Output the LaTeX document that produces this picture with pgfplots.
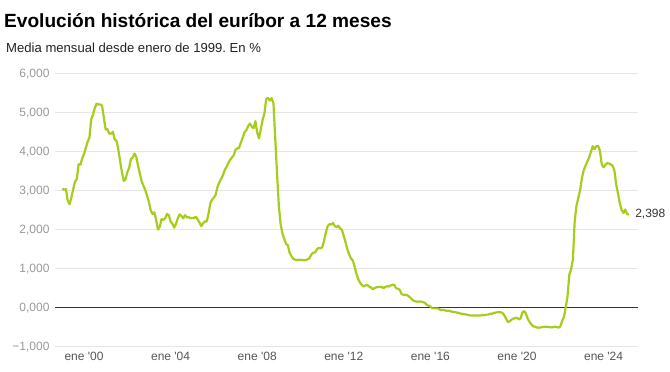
\documentclass[border=0pt]{standalone}
\usepackage{fontspec}
\setmainfont{Liberation Sans}
\usepackage{pgfplots}
\usepackage{pgfplotstable}
\pgfplotsset{compat=1.18}
\frenchspacing
\definecolor{linegreen}{RGB}{166,204,30}
\definecolor{gridgray}{RGB}{230,230,230}
\definecolor{ticky}{RGB}{153,153,153}
\definecolor{tickx}{RGB}{85,85,85}
\pgfplotstableread{
yr m v
1999 1 3.062
1999 2 3.033
1999 3 3.049
1999 4 2.749
1999 5 2.662
1999 6 2.834
1999 7 3.040
1999 8 3.240
1999 9 3.304
1999 10 3.684
1999 11 3.672
1999 12 3.833
2000 1 3.949
2000 2 4.106
2000 3 4.264
2000 4 4.368
2000 5 4.841
2000 6 4.958
2000 7 5.130
2000 8 5.240
2000 9 5.220
2000 10 5.220
2000 11 5.190
2000 12 4.880
2001 1 4.577
2001 2 4.585
2001 3 4.471
2001 4 4.470
2001 5 4.520
2001 6 4.320
2001 7 4.290
2001 8 4.070
2001 9 3.770
2001 10 3.490
2001 11 3.260
2001 12 3.300
2002 1 3.480
2002 2 3.590
2002 3 3.820
2002 4 3.860
2002 5 3.960
2002 6 3.870
2002 7 3.640
2002 8 3.440
2002 9 3.240
2002 10 3.130
2002 11 3.020
2002 12 2.870
2003 1 2.710
2003 2 2.500
2003 3 2.410
2003 4 2.450
2003 5 2.250
2003 6 2.010
2003 7 2.080
2003 8 2.280
2003 9 2.260
2003 10 2.300
2003 11 2.410
2003 12 2.380
2004 1 2.220
2004 2 2.160
2004 3 2.060
2004 4 2.160
2004 5 2.300
2004 6 2.400
2004 7 2.360
2004 8 2.300
2004 9 2.380
2004 10 2.320
2004 11 2.330
2004 12 2.300
2005 1 2.310
2005 2 2.310
2005 3 2.340
2005 4 2.270
2005 5 2.190
2005 6 2.100
2005 7 2.170
2005 8 2.220
2005 9 2.220
2005 10 2.410
2005 11 2.680
2005 12 2.780
2006 1 2.830
2006 2 2.910
2006 3 3.110
2006 4 3.220
2006 5 3.310
2006 6 3.400
2006 7 3.540
2006 8 3.620
2006 9 3.720
2006 10 3.800
2006 11 3.860
2006 12 3.920
2007 1 4.060
2007 2 4.090
2007 3 4.110
2007 4 4.250
2007 5 4.370
2007 6 4.510
2007 7 4.560
2007 8 4.670
2007 9 4.730
2007 10 4.650
2007 11 4.610
2007 12 4.790
2008 1 4.500
2008 2 4.350
2008 3 4.590
2008 4 4.820
2008 5 4.990
2008 6 5.360
2008 7 5.390
2008 8 5.320
2008 9 5.380
2008 10 5.250
2008 11 4.350
2008 12 3.450
2009 1 2.620
2009 2 2.140
2009 3 1.910
2009 4 1.770
2009 5 1.640
2009 6 1.610
2009 7 1.410
2009 8 1.330
2009 9 1.260
2009 10 1.240
2009 11 1.230
2009 12 1.240
2010 1 1.230
2010 2 1.230
2010 3 1.220
2010 4 1.230
2010 5 1.250
2010 6 1.280
2010 7 1.370
2010 8 1.420
2010 9 1.420
2010 10 1.500
2010 11 1.540
2010 12 1.530
2011 1 1.550
2011 2 1.710
2011 3 1.920
2011 4 2.090
2011 5 2.150
2011 6 2.140
2011 7 2.180
2011 8 2.100
2011 9 2.070
2011 10 2.110
2011 11 2.040
2011 12 2.000
2012 1 1.840
2012 2 1.680
2012 3 1.500
2012 4 1.370
2012 5 1.270
2012 6 1.220
2012 7 1.060
2012 8 0.880
2012 9 0.740
2012 10 0.650
2012 11 0.590
2012 12 0.550
2013 1 0.580
2013 2 0.590
2013 3 0.550
2013 4 0.530
2013 5 0.480
2013 6 0.510
2013 7 0.530
2013 8 0.540
2013 9 0.540
2013 10 0.540
2013 11 0.510
2013 12 0.540
2014 1 0.560
2014 2 0.550
2014 3 0.580
2014 4 0.600
2014 5 0.590
2014 6 0.510
2014 7 0.490
2014 8 0.470
2014 9 0.360
2014 10 0.340
2014 11 0.340
2014 12 0.330
2015 1 0.300
2015 2 0.260
2015 3 0.210
2015 4 0.180
2015 5 0.170
2015 6 0.160
2015 7 0.170
2015 8 0.160
2015 9 0.150
2015 10 0.130
2015 11 0.080
2015 12 0.060
2016 1 0.040
2016 2 -0.010
2016 3 -0.010
2016 4 -0.010
2016 5 -0.010
2016 6 -0.030
2016 7 -0.060
2016 8 -0.050
2016 9 -0.060
2016 10 -0.070
2016 11 -0.070
2016 12 -0.080
2017 1 -0.095
2017 2 -0.106
2017 3 -0.110
2017 4 -0.120
2017 5 -0.130
2017 6 -0.150
2017 7 -0.150
2017 8 -0.160
2017 9 -0.170
2017 10 -0.180
2017 11 -0.190
2017 12 -0.190
2018 1 -0.190
2018 2 -0.190
2018 3 -0.190
2018 4 -0.190
2018 5 -0.190
2018 6 -0.180
2018 7 -0.180
2018 8 -0.170
2018 9 -0.170
2018 10 -0.150
2018 11 -0.150
2018 12 -0.130
2019 1 -0.120
2019 2 -0.110
2019 3 -0.110
2019 4 -0.110
2019 5 -0.130
2019 6 -0.190
2019 7 -0.280
2019 8 -0.360
2019 9 -0.340
2019 10 -0.300
2019 11 -0.270
2019 12 -0.260
2020 1 -0.250
2020 2 -0.290
2020 3 -0.270
2020 4 -0.110
2020 5 -0.080
2020 6 -0.150
2020 7 -0.280
2020 8 -0.360
2020 9 -0.420
2020 10 -0.470
2020 11 -0.480
2020 12 -0.500
2021 1 -0.505
2021 2 -0.501
2021 3 -0.487
2021 4 -0.484
2021 5 -0.481
2021 6 -0.484
2021 7 -0.491
2021 8 -0.498
2021 9 -0.492
2021 10 -0.477
2021 11 -0.487
2021 12 -0.502
2022 1 -0.477
2022 2 -0.335
2022 3 -0.237
2022 4 0.013
2022 5 0.287
2022 6 0.852
2022 7 0.992
2022 8 1.249
2022 9 2.233
2022 10 2.629
2022 11 2.828
2022 12 3.018
2023 1 3.337
2023 2 3.534
2023 3 3.647
2023 4 3.757
2023 5 3.862
2023 6 4.007
2023 7 4.149
2023 8 4.073
2023 9 4.149
2023 10 4.160
2023 11 4.022
2023 12 3.679
2024 1 3.609
2024 2 3.671
2024 3 3.718
2024 4 3.703
2024 5 3.680
2024 6 3.650
2024 7 3.526
2024 8 3.166
2024 9 2.936
2024 10 2.691
2024 11 2.506
2024 12 2.436
2025 1 2.525
2025 2 2.407
2025 3 2.398
}\euribor
\begin{document}
\begin{tikzpicture}
\useasboundingbox (0pt,0pt) rectangle (670pt,372pt);
\node[anchor=base west,inner sep=0pt,font=\fontsize{19.1}{22}\selectfont\bfseries] at (4pt,344pt) {Evolución histórica del euríbor a 12 meses};
\node[anchor=base west,inner sep=0pt,font=\fontsize{13.1}{15}\selectfont,text={rgb,255:red,34;green,34;blue,34}] at (6pt,319pt) {Media mensual desde enero de 1999. En \%};
\begin{axis}[
  at={(55pt,25pt)}, anchor=south west,
  scale only axis, width=583pt, height=273pt,
  xmin=1998.66, xmax=2025.59,
  ymin=-1, ymax=6,
  axis line style={draw=none},
  clip=false,
  ytick={-1,0,1,2,3,4,5,6},
  yticklabels={{−1,000},{0,000},{1,000},{2,000},{3,000},{4,000},{5,000},{6,000}},
  xtick={2000,2004,2008,2012,2016,2020,2024},
  xticklabels={ene \textquotesingle 00,ene \textquotesingle 04,ene \textquotesingle 08,ene \textquotesingle 12,ene \textquotesingle 16,ene \textquotesingle 20,ene \textquotesingle 24},
  major tick length=0pt,
  tick style={draw=none},
  yticklabel style={font=\fontsize{12}{14}\selectfont, text=ticky, anchor=east, xshift=-2pt},
  xticklabel style={font=\fontsize{12}{14}\selectfont, text=tickx, anchor=north, yshift=-2pt},
  ymajorgrids=true,
  grid style={gridgray, line width=1pt},
]
\draw[black!80, line width=1pt] (axis cs:1998.66,0) -- (axis cs:2025.59,0);
\addplot[linegreen, line width=2.2pt, line join=round, no markers]
  table[x expr={\thisrow{yr}+(\thisrow{m}-1)/12}, y=v] {\euribor}
  node[pos=1, anchor=west, xshift=2pt, font=\fontsize{12}{14}\selectfont, text={rgb,255:red,51;green,51;blue,51}] {2,398};
\end{axis}
\end{tikzpicture}
\end{document}
